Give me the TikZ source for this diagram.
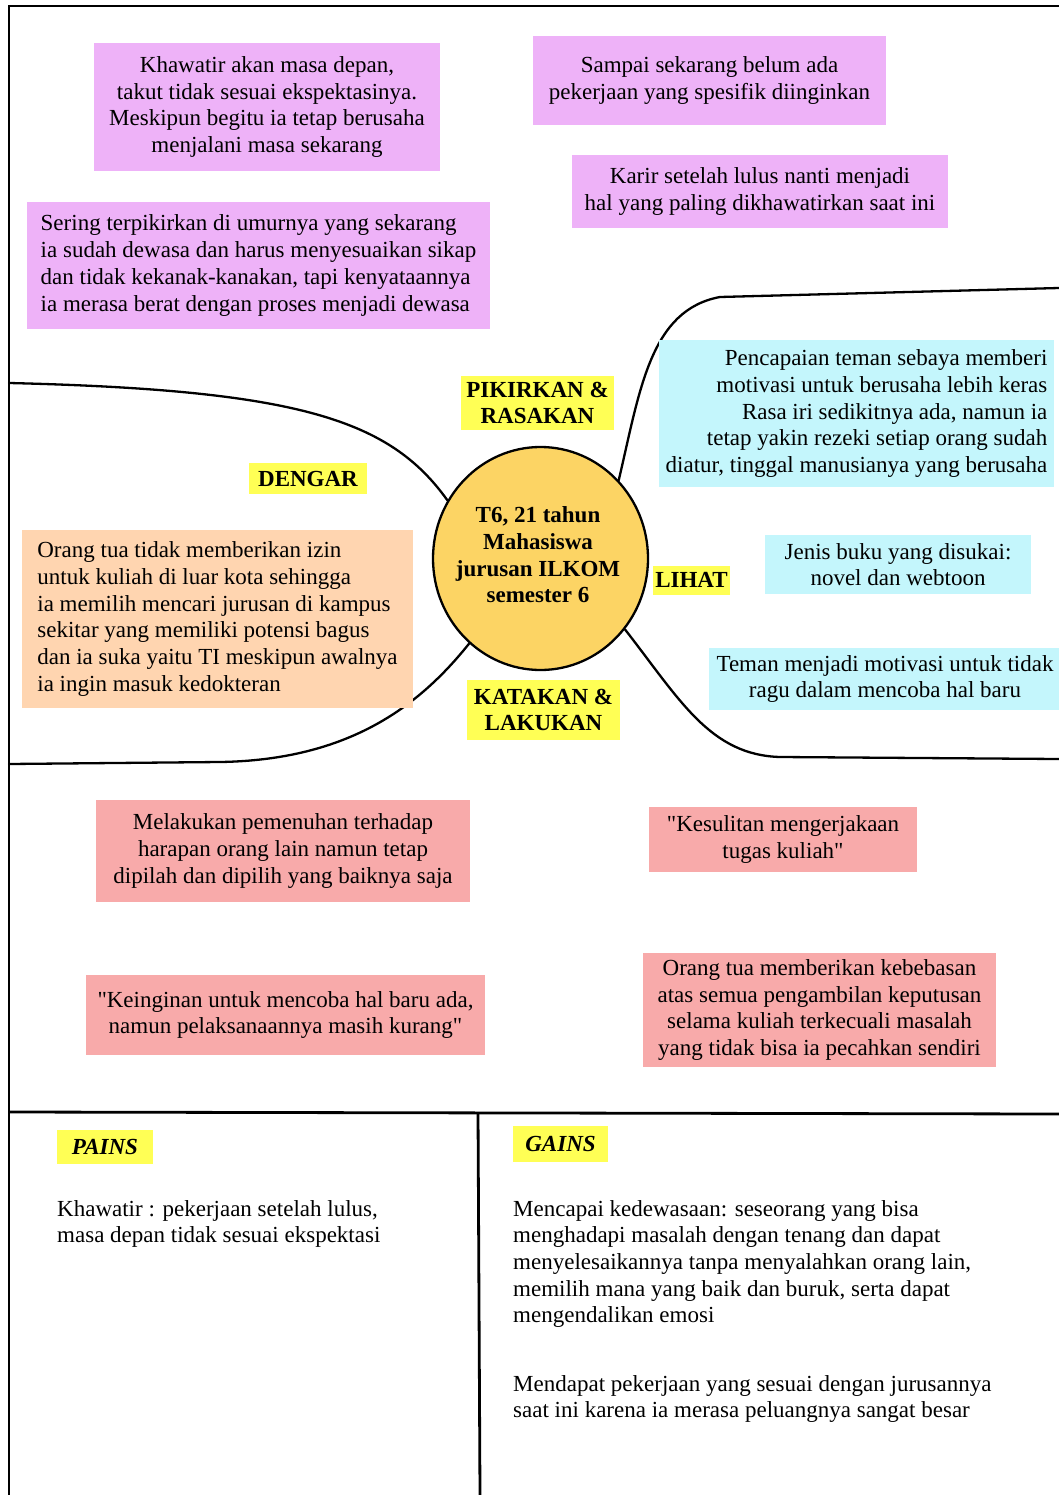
\documentclass[tikz,border=0pt]{standalone}
\usepackage{fontspec}
\setmainfont{Liberation Serif}[Ligatures=TeXOff]
\usetikzlibrary{shapes.geometric}

\definecolor{pinkfill}{RGB}{238,178,248}
\definecolor{cyanfill}{RGB}{196,246,252}
\definecolor{peachfill}{RGB}{255,213,176}
\definecolor{salmonfill}{RGB}{248,170,170}
\definecolor{tagfill}{RGB}{255,255,85}
\definecolor{corefill}{RGB}{252,212,100}

\tikzset{
  card/.style={inner sep=0pt, align=center},
  pinkcard/.style={card, fill=pinkfill},
  bluecard/.style={card, fill=cyanfill},
  peachcard/.style={card, fill=peachfill},
  salmoncard/.style={card, fill=salmonfill},
  tag/.style={card, fill=tagfill, font=\fontsize{23}{26.6}\selectfont\bfseries},
  outline/.style={line width=2.3pt, line cap=round},
  frameline/.style={line width=2.8pt},
  plaintext/.style={inner sep=0pt, align=left, anchor=north west}
}

\begin{document}
\begin{tikzpicture}[x=1pt, y=-1pt, font=\fontsize{23}{26.7}\selectfont]
\useasboundingbox (0,0) rectangle (1059,1495);

% central persona: the disc, then its caption on top
\node[draw, ellipse, fill=corefill, line width=2.3pt, minimum width=215, minimum height=223,
      inner sep=0pt] (core) at (540.5,558.5) {};
\node[inner sep=0pt, align=center, font=\fontsize{23}{26.7}\selectfont\bfseries]
  (coretext) at (538,555) {T6, 21 tahun\\Mahasiswa\\jurusan ILKOM\\semester 6};

% lobes around the persona
\coordinate (lt) at (9,383);
\coordinate (lb) at (9,764);
\coordinate (rt) at (1059,288);
\coordinate (rb) at (1059,759);
\draw[outline] (lt) .. controls (300,390) and (390,420) .. (core.148);
\draw[outline] (core.230) .. controls (420,705) and (350,760) .. (220,762) -- (lb);
\draw[outline] (core.45) .. controls (640,390) and (650,310) .. (720,297) -- (rt);
\draw[outline] (core.-40) .. controls (680,700) and (710,755) .. (780,757) -- (rb);

% frame and bottom panels
\coordinate (ftr) at (1059,6);
\coordinate (ftl) at (9,6);
\coordinate (fbl) at (9,1495);
\coordinate (ml) at (9,1112);
\coordinate (mr) at (1059,1114);
\coordinate (dt) at (478,1112);
\coordinate (db) at (480,1495);
\draw[frameline] (ftr) -- (ftl) -- (fbl);
\draw[frameline] (ml) -- (mr);
\draw[frameline] (dt) -- (db);

% thoughts and feelings
\node[pinkcard, minimum width=346, minimum height=128] (p1) at (267,107)
  {Khawatir akan masa depan,\\takut tidak sesuai ekspektasinya.\\Meskipun begitu ia tetap berusaha\\menjalani masa sekarang};
\node[pinkcard, minimum width=353, minimum height=89] (p2) at (709.5,80.5)
  {Sampai sekarang belum ada\\pekerjaan yang spesifik diinginkan};
\node[pinkcard, minimum width=376, minimum height=73] (p3) at (760,191.5)
  {Karir setelah lulus nanti menjadi\\hal yang paling dikhawatirkan saat ini};
\node[pinkcard, align=left, minimum width=463, minimum height=127] (p4) at (258.5,265.5)
  {Sering terpikirkan di umurnya yang sekarang\\ia sudah dewasa dan harus menyesuaikan sikap\\dan tidak kekanak-kanakan, tapi kenyataannya\\ia merasa berat dengan proses menjadi dewasa};

% seeing
\node[bluecard, align=right, minimum width=395, minimum height=147] (b1) at (856.5,413.5)
  {Pencapaian teman sebaya memberi\\motivasi untuk berusaha lebih keras\\Rasa iri sedikitnya ada, namun ia\\tetap yakin rezeki setiap orang sudah\\diatur, tinggal manusianya yang berusaha};
\node[bluecard, minimum width=266, minimum height=59] (b2) at (898,564.5)
  {Jenis buku yang disukai:\\novel dan webtoon};
\node[bluecard, minimum width=352, minimum height=62] (b3) at (885,679)
  {Teman menjadi motivasi untuk tidak\\ragu dalam mencoba hal baru};

% hearing
\node[peachcard, align=left, minimum width=391, minimum height=178] (h1) at (217.5,619)
  {Orang tua tidak memberikan izin\\untuk kuliah di luar kota sehingga\\ia memilih mencari jurusan di kampus\\sekitar yang memiliki potensi bagus\\dan ia suka yaitu TI meskipun awalnya\\ia ingin masuk kedokteran};

% saying and doing
\node[salmoncard, minimum width=374, minimum height=102] (s1) at (283,851)
  {Melakukan pemenuhan terhadap\\harapan orang lain namun tetap\\dipilah dan dipilih yang baiknya saja};
\node[salmoncard, minimum width=268, minimum height=65] (s2) at (783,839.5)
  {"Kesulitan mengerjakaan\\tugas kuliah"};
\node[salmoncard, minimum width=399, minimum height=80] (s3) at (285.5,1015)
  {"Keinginan untuk mencoba hal baru ada,\\namun pelaksanaannya masih kurang"};
\node[salmoncard, minimum width=353, minimum height=114] (s4) at (819.5,1010)
  {Orang tua memberikan kebebasan\\atas semua pengambilan keputusan\\selama kuliah terkecuali masalah\\yang tidak bisa ia pecahkan sendiri};

% quadrant tags
\node[tag, minimum width=153, minimum height=54] (t1) at (537.5,403) {PIKIRKAN \&\\RASAKAN};
\node[tag, minimum width=118, minimum height=31] (t2) at (308,478.5) {DENGAR};
\node[tag, minimum width=77, minimum height=29] (t3) at (691.5,580) {LIHAT};
\node[tag, minimum width=153, minimum height=60] (t4) at (543.5,710) {KATAKAN \&\\LAKUKAN};
\node[tag, font=\fontsize{23}{26.6}\selectfont\bfseries\itshape, minimum width=96, minimum height=34] (t5) at (105,1147) {PAINS};
\node[tag, font=\fontsize{23}{26.6}\selectfont\bfseries\itshape, minimum width=95, minimum height=36] (t6) at (560.5,1144) {GAINS};

% pains and gains
\node[plaintext] (pain1) at (57,1200)
  {Khawatir : pekerjaan setelah lulus,\\masa depan tidak sesuai ekspektasi};
\node[plaintext] (gain1) at (513,1200)
  {Mencapai kedewasaan: seseorang yang bisa\\menghadapi masalah dengan tenang dan dapat\\menyelesaikannya tanpa menyalahkan orang lain,\\memilih mana yang baik dan buruk, serta dapat\\mengendalikan emosi};
\node[plaintext] (gain2) at (513,1375)
  {Mendapat pekerjaan yang sesuai dengan jurusannya\\saat ini karena ia merasa peluangnya sangat besar};
\end{tikzpicture}
\end{document}
